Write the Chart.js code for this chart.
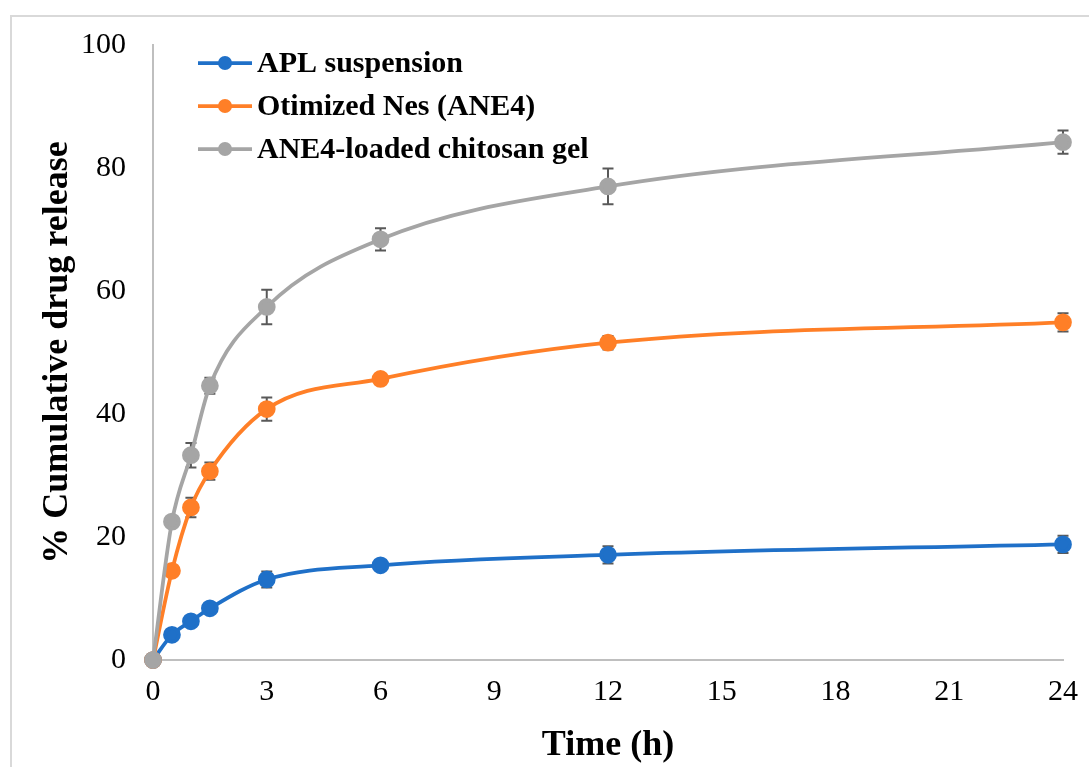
<!DOCTYPE html>
<html>
<head>
<meta charset="utf-8">
<script src="https://cdn.jsdelivr.net/npm/chart.js@4.4.1/dist/chart.umd.min.js"></script>
<style>
html,body{margin:0;padding:0;background:#fff;}
canvas{display:block;}
</style>
</head>
<body>
<canvas id="c" width="1089" height="767"></canvas>
<script>
// ---- data ----
const times = [0, 0.5, 1, 1.5, 3, 6, 12, 24];
const seriesNames = ["APL suspension", "Otimized Nes (ANE4)", "ANE4-loaded chitosan gel"];
const aplValues = [0, 4.1, 6.3, 8.4, 13.1, 15.4, 17.1, 18.8];
const aplErrors = [0, 0.4, 0.7, 0.6, 1.3, 0.6, 1.4, 1.4];
const ane4Values = [0, 14.5, 24.8, 30.7, 40.8, 45.7, 51.6, 54.9];
const ane4Errors = [0, 0.6, 1.6, 1.4, 1.9, 0.6, 1.1, 1.5];
const gelValues = [0, 22.5, 33.3, 44.6, 57.4, 68.4, 77.0, 84.2];
const gelErrors = [0, 0.6, 2.0, 1.3, 2.8, 1.8, 2.9, 1.9];
const xTicks = [0, 3, 6, 9, 12, 15, 18, 21, 24];
const yTicks = [0, 20, 40, 60, 80, 100];
const xTitle = "Time (h)";
const yTitle = "% Cumulative drug release";

const colors = ["#1F70C8", "#FF7F27", "#A5A5A5"];
const FONT = "'Liberation Serif', 'Times New Roman', serif";

function pts(vals) { return times.map((t, i) => ({x: t, y: vals[i]})); }
const allVals = [aplValues, ane4Values, gelValues];
const allErrs = [aplErrors, ane4Errors, gelErrors];

const datasets = allVals.map((v, i) => ({
  label: seriesNames[i],
  data: pts(v),
  errors: allErrs[i],
  borderColor: colors[i],
  backgroundColor: colors[i],
  pointBackgroundColor: colors[i],
  pointBorderColor: colors[i],
  borderWidth: 3.75,
  pointRadius: 7,
  pointHoverRadius: 7,
  cubicInterpolationMode: 'monotone',
  showLine: true,
  fill: false,
  clip: false,
  order: 3 - i
}));

const framePlugin = {
  id: 'frame',
  beforeDraw(chart) {
    const ctx = chart.ctx;
    ctx.save();
    ctx.fillStyle = '#fff';
    ctx.fillRect(0, 0, chart.width, chart.height);
    ctx.strokeStyle = '#d9d9d9';
    ctx.lineWidth = 2;
    ctx.strokeRect(11, 16, 3000, 3000);
    ctx.restore();
  }
};

const errorBarPlugin = {
  id: 'errorBars',
  beforeDatasetsDraw(chart) {
    const ctx = chart.ctx;
    const xs = chart.scales.x, ys = chart.scales.y;
    ctx.save();
    ctx.strokeStyle = '#595959';
    ctx.lineWidth = 2;
    chart.data.datasets.forEach(ds => {
      ds.data.forEach((p, i) => {
        const e = ds.errors[i];
        if (!e) return;
        const x = xs.getPixelForValue(p.x);
        const yt = ys.getPixelForValue(p.y + e);
        const yb = ys.getPixelForValue(p.y - e);
        ctx.beginPath();
        ctx.moveTo(x, yt); ctx.lineTo(x, yb);
        ctx.moveTo(x - 5.5, yt); ctx.lineTo(x + 5.5, yt);
        ctx.moveTo(x - 5.5, yb); ctx.lineTo(x + 5.5, yb);
        ctx.stroke();
      });
    });
    ctx.restore();
  }
};

const legendPlugin = {
  id: 'innerLegend',
  afterDraw(chart) {
    const ctx = chart.ctx;
    const ca = chart.chartArea;
    ctx.save();
    const x0 = ca.left + 45, lineLen = 54;
    const rowY = [63, 106, 149];
    chart.data.datasets.forEach((ds, i) => {
      const y = rowY[i];
      ctx.strokeStyle = ds.borderColor;
      ctx.lineWidth = 3.75;
      ctx.beginPath();
      ctx.moveTo(x0, y); ctx.lineTo(x0 + lineLen, y);
      ctx.stroke();
      ctx.fillStyle = ds.borderColor;
      ctx.beginPath();
      ctx.arc(x0 + lineLen / 2, y, 7, 0, Math.PI * 2);
      ctx.fill();
      ctx.fillStyle = '#000';
      ctx.font = "bold 30px " + FONT;
      ctx.textBaseline = 'middle';
      ctx.textAlign = 'left';
      ctx.fillText(ds.label, x0 + lineLen + 5, y + 1);
    });
    ctx.restore();
  }
};

new Chart(document.getElementById('c'), {
  type: 'scatter',
  data: { datasets },
  plugins: [framePlugin, errorBarPlugin, legendPlugin],
  options: {
    responsive: false,
    devicePixelRatio: 1,
    animation: false,
    events: [],
    layout: { padding: { left: 0, right: 26, top: 43, bottom: 0 } },
    plugins: { legend: { display: false }, tooltip: { enabled: false } },
    scales: {
      x: {
        type: 'linear',
        min: 0, max: 24,
        afterBuildTicks(s) { s.ticks = xTicks.map(v => ({value: v})); },
        afterFit(s) { s.height = 107; s.paddingRight = 0; s.paddingLeft = 0; },
        grid: { display: false, drawTicks: false },
        border: { display: true, color: '#bfbfbf', width: 2 },
        ticks: { padding: 14, color: '#000', font: { family: FONT, size: 30 }, maxRotation: 0 },
        title: { display: true, text: xTitle, color: '#000', padding: { top: 0, bottom: 0 },
                 font: { family: FONT, size: 36, weight: 'bold', lineHeight: 1.2 } }
      },
      y: {
        type: 'linear',
        min: 0, max: 100,
        afterBuildTicks(s) { s.ticks = yTicks.map(v => ({value: v})); },
        afterFit(s) { s.width = 153; },
        grid: { display: false, drawTicks: false },
        border: { display: true, color: '#bfbfbf', width: 2 },
        ticks: { padding: 27, color: '#000', font: { family: FONT, size: 30 } },
        title: { display: true, text: yTitle, color: '#000', padding: { top: 36, bottom: 0 },
                 font: { family: FONT, size: 36, weight: 'bold', lineHeight: 1.2 } }
      }
    }
  }
});
</script>
</body>
</html>
